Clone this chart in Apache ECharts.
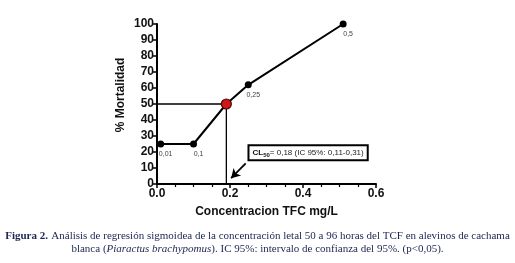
<!DOCTYPE html>
<html>
<head>
<meta charset="utf-8">
<script src="https://cdn.jsdelivr.net/npm/echarts@6/dist/echarts.min.js"></script>
<style>
html, body { margin: 0; padding: 0; background: #fff; }
#main { width: 515px; height: 263px; }
</style>
</head>
<body>
<div id="main"></div>
<script>
// datos
var conc = [0.01, 0.1, 0.19, 0.25, 0.51];
var mort = [25, 25, 50, 62, 100];
var etiquetas = ['0,01', '0,1', '', '0,25', '0,5'];
var cl50 = [0.19, 50];
var xTicks = [0, 0.2, 0.4, 0.6];
var yTicks = [0, 10, 20, 30, 40, 50, 60, 70, 80, 90, 100];
var flecha = [[0.243, 12.9], [0.203, 3.6]];
var cajaPos = [0.414, 19.6];

var myChart = echarts.init(document.getElementById('main'));

var puntos = [];
for (var i = 0; i < conc.length; i++) {
	var p = {
		value: [conc[i], mort[i]],
		label: { formatter: etiquetas[i] }
	};
	if (conc[i] == cl50[0]) {
		p.symbolSize = 10;
		p.itemStyle = { color: '#d01818', borderColor: '#4a0a0a', borderWidth: 1.2 };
	}
	puntos.push(p);
}

var serif = { fontFamily: 'Liberation Serif', fontSize: 11, fill: '#1b2550', lineHeight: 14 };

var option = {
	animation: false,
	backgroundColor: '#fff',
	grid: { left: 157, right: 139, top: 24, bottom: 79, containLabel: false },
	xAxis: {
		type: 'value',
		min: xTicks[0],
		max: xTicks[xTicks.length - 1],
		interval: 0.2,
		name: 'Concentracion TFC mg/L',
		nameLocation: 'middle',
		nameGap: 22,
		nameTextStyle: { fontFamily: 'Liberation Sans', fontWeight: 'bold', fontSize: 12, color: '#111' },
		axisLine: { lineStyle: { color: '#000', width: 2 } },
		axisTick: { length: 4, lineStyle: { color: '#000', width: 1.5 } },
		minorTick: { show: true, splitNumber: 4, length: 3, lineStyle: { color: '#000', width: 1.2 } },
		axisLabel: {
			margin: 4,
			fontFamily: 'Liberation Sans', fontWeight: 'bold', fontSize: 12, color: '#111',
			formatter: function (v) { return v.toFixed(1); }
		},
		splitLine: { show: false }
	},
	yAxis: {
		type: 'value',
		min: yTicks[0],
		max: yTicks[yTicks.length - 1],
		interval: 10,
		name: '% Mortalidad',
		nameLocation: 'middle',
		nameGap: 30,
		nameTextStyle: { fontFamily: 'Liberation Sans', fontWeight: 'bold', fontSize: 12, color: '#111', padding: [0, 0, 0, 18] },
		axisLine: { show: true, lineStyle: { color: '#000', width: 2 } },
		axisTick: { show: true, length: 4, lineStyle: { color: '#000', width: 1.5 } },
		axisLabel: { margin: 3, fontFamily: 'Liberation Sans', fontWeight: 'bold', fontSize: 12, color: '#111' },
		splitLine: { show: false }
	},
	series: [
		{
			// lineas de referencia CL50
			type: 'line',
			data: [[0, cl50[1]], cl50, [cl50[0], 0]],
			symbol: 'none',
			silent: true,
			z: 1,
			lineStyle: { color: '#000', width: 1.3 },
			markLine: {
				silent: true,
				symbol: ['none', 'arrow'],
				symbolSize: [8, 9],
				label: { show: false },
				lineStyle: { color: '#000', width: 1.8, type: 'solid' },
				data: [[{ coord: flecha[0] }, { coord: flecha[1] }]]
			},
			markPoint: {
				silent: true,
				symbol: 'rect',
				symbolSize: 0,
				data: [{ coord: cajaPos }],
				label: {
					show: true,
					position: 'inside',
					backgroundColor: '#fff',
					borderColor: '#000',
					borderWidth: 2,
					padding: [2, 3, 1, 3],
					formatter: '{b|CL}{s|50}{n|= 0,18 (IC 95%: 0,11-0,31)}',
					rich: {
						b: { fontFamily: 'Liberation Sans', fontWeight: 'bold', fontSize: 8, color: '#111' },
						s: { fontFamily: 'Liberation Sans', fontWeight: 'bold', fontSize: 6, color: '#111', padding: [4, 0, 0, 0] },
						n: { fontFamily: 'Liberation Sans', fontSize: 8, color: '#222' }
					}
				}
			}
		},
		{
			type: 'line',
			data: puntos,
			symbol: 'circle',
			symbolSize: 7,
			z: 3,
			itemStyle: { color: '#000' },
			lineStyle: { color: '#000', width: 2 },
			label: {
				show: true,
				position: 'bottom',
				distance: 3,
				offset: [5, 0],
				fontFamily: 'Liberation Sans',
				fontSize: 7,
				color: '#444'
			}
		}
	],
	graphic: [
		{
			type: 'text',
			left: 'center',
			top: 230,
			style: {
				text: '{f|Figura 2.} {t|Análisis de regresión sigmoidea de la concentración letal 50 a 96 horas del TCF en alevinos de cachama}',
				rich: {
					f: Object.assign({}, serif, { fontWeight: 'bold' }),
					t: serif
				}
			}
		},
		{
			type: 'text',
			left: 'center',
			top: 244,
			style: {
				text: '{t|blanca (}{i|Piaractus brachypomus}{t|). IC 95%: intervalo de confianza del 95%. (p<0,05).}',
				rich: {
					t: serif,
					i: Object.assign({}, serif, { fontStyle: 'italic' })
				}
			}
		}
	]
};
myChart.setOption(option);
</script>
</body>
</html>
